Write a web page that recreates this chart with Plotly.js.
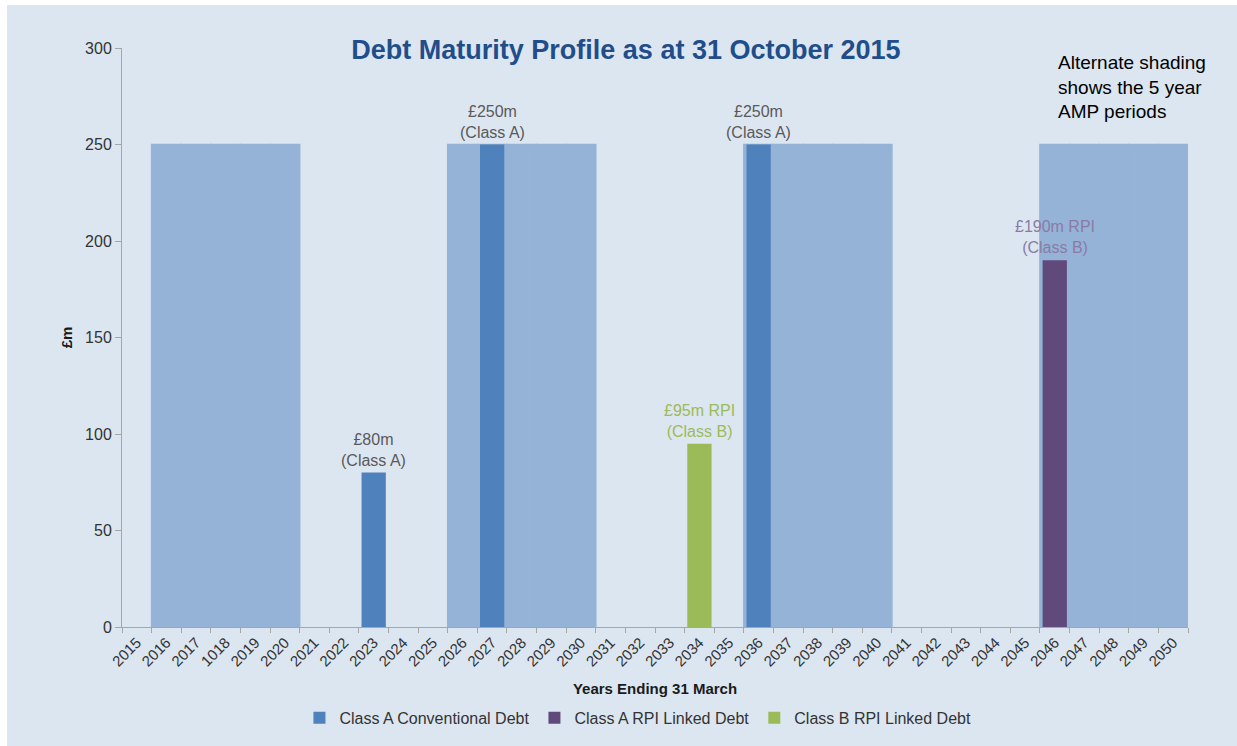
<!DOCTYPE html>
<html>
<head>
<meta charset="utf-8">
<script src="https://cdn.plot.ly/plotly-3.0.1.min.js"></script>
<style>html,body{margin:0;padding:0;background:#fff;overflow:hidden;}#chart{width:1237px;height:746px;}</style>
</head>
<body>
<div id="chart"></div>
<script>
// Category axis (tick labels exactly as printed, including the "1018" typo)
const years = ["2015","2016","2017","1018","2019","2020","2021","2022","2023","2024",
  "2025","2026","2027","2028","2029","2030","2031","2032","2033","2034",
  "2035","2036","2037","2038","2039","2040","2041","2042","2043","2044",
  "2045","2046","2047","2048","2049","2050"];

// Alternate shading for the 5 year AMP periods
const shadingYears = ["2016","2017","1018","2019","2020",
  "2026","2027","2028","2029","2030",
  "2036","2037","2038","2039","2040",
  "2046","2047","2048","2049","2050"];
const shadingValues = [250,250,250,250,250, 250,250,250,250,250,
  250,250,250,250,250, 250,250,250,250,250];

// Series
const classAConvYears = ["2023","2027","2036"];
const classAConvValues = [80,250,250];
const classAConvLabels = ["£80m<br>(Class A)","£250m<br>(Class A)","£250m<br>(Class A)"];

const classARpiYears = ["2046"];
const classARpiValues = [190];
const classARpiLabels = ["£190m RPI<br>(Class B)"];

const classBRpiYears = ["2034"];
const classBRpiValues = [95];
const classBRpiLabels = ["£95m RPI<br>(Class B)"];

const FONT = "Liberation Sans, Arial, sans-serif";
const BG = "#dce6f1";

const traces = [
  {type:"bar", x:shadingYears, y:shadingValues, width:1, showlegend:false, hoverinfo:"skip",
   marker:{color:"#95b3d7", line:{color:"#95b3d7", width:1.5}}},
  {type:"bar", name:"Class A Conventional Debt", x:classAConvYears, y:classAConvValues, width:0.82,
   marker:{color:"#4f81bd", line:{width:0}}},
  {type:"bar", name:"Class A RPI Linked Debt", x:classARpiYears, y:classARpiValues, width:0.82,
   marker:{color:"#604a7b", line:{width:0}}},
  {type:"bar", name:"Class B RPI Linked Debt", x:classBRpiYears, y:classBRpiValues, width:0.82,
   marker:{color:"#9bbb59", line:{width:0}}}
];

const annotations = [];
function addLabels(xs, ys, labels, color){
  xs.forEach((x,i)=>annotations.push({x:years.indexOf(x), y:ys[i], xref:"x", yref:"y", text:labels[i],
    showarrow:false, yanchor:"bottom", yshift:2, font:{family:FONT, size:16, color:color}}));
}
addLabels(classAConvYears, classAConvValues, classAConvLabels, "#595959");
addLabels(classARpiYears, classARpiValues, classARpiLabels, "#8a7ba6");
addLabels(classBRpiYears, classBRpiValues, classBRpiLabels, "#9bbb59");
annotations.push({xref:"paper", yref:"paper", x:0.876, y:0.997, xanchor:"left", yanchor:"top",
  align:"left", showarrow:false, text:"Alternate shading<br>shows the 5 year<br>AMP periods",
  font:{family:FONT, size:19, color:"#000"}});

const layout = {
  width:1237, height:746,
  margin:{l:122, r:49, t:48, b:118},
  paper_bgcolor:"#ffffff",
  plot_bgcolor:"rgba(0,0,0,0)",
  font:{family:FONT, color:"#333333"},
  barmode:"overlay",
  title:{text:"<b>Debt Maturity Profile as at 31 October 2015</b>", x:0.506, xanchor:"center",
    y:0.933, yanchor:"middle", font:{family:FONT, size:27, color:"#1f4e8a"}},
  xaxis:{type:"category", categoryorder:"array", categoryarray:years, range:[-0.5,35.5],
    tickson:"boundaries", ticks:"outside", ticklen:5, tickcolor:"#a6a6a6",
    showline:true, linecolor:"#a6a6a6", linewidth:1, showgrid:false, zeroline:false,
    tickangle:-45, tickfont:{family:FONT, size:15, color:"#333333"},
    title:{text:"<b>Years Ending 31 March</b>", font:{family:FONT, size:15, color:"#1a1a1a"}, standoff:14},
    fixedrange:true},
  yaxis:{range:[0,300], dtick:50, ticks:"outside", ticklen:6, tickcolor:"#a6a6a6",
    showline:true, linecolor:"#a6a6a6", linewidth:1, showgrid:false, zeroline:false,
    tickfont:{family:FONT, size:16, color:"#333333"},
    title:{text:"<b>£m</b>", font:{family:FONT, size:15, color:"#1a1a1a"}, standoff:8},
    fixedrange:true},
  legend:{orientation:"h", x:0.484, xanchor:"center", y:-0.155, yanchor:"middle",
    font:{family:FONT, size:16, color:"#333333"}, bgcolor:"rgba(0,0,0,0)", itemwidth:30},
  shapes:[{type:"rect", xref:"paper", yref:"paper", x0:-0.1079, x1:1.2, y0:-0.5, y1:1.0741,
    fillcolor:BG, line:{width:0}, layer:"below"}],
  annotations:annotations
};

Plotly.newPlot("chart", traces, layout, {displayModeBar:false, staticPlot:true});
</script>
</body>
</html>
